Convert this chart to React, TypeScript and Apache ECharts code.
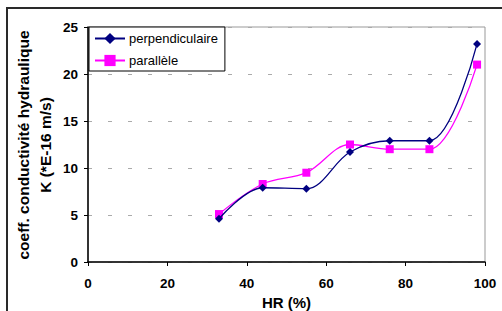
import React, { useEffect, useRef } from "react";
import * as echarts from "echarts";

const hrValues = [33, 44, 55, 66, 76, 86, 98];
const perpendiculaire = [4.6, 7.9, 7.8, 11.7, 12.9, 12.9, 23.2];
const parallele = [5.1, 8.3, 9.5, 12.5, 12.0, 12.0, 21.0];
const seriesNames = ["perpendiculaire", "parallèle"];
const yTitleLines = ["coeff. conductivité hydraulique", "K (*E-16 m/s)"];

const FONT = "'Liberation Sans', Arial, sans-serif";

export default function App() {
  const ref = useRef<HTMLDivElement>(null);
  useEffect(() => {
    if (!ref.current) return;
    const chart = echarts.init(ref.current, undefined, { renderer: "svg" });
    const toPairs = (ys: number[]) => hrValues.map((x, i) => [x, ys[i]]);
    chart.setOption({
      animation: false,
      backgroundColor: "#fff",
      textStyle: { fontFamily: FONT },
      grid: {
        left: 88,
        right: 17,
        top: 27,
        bottom: 49,
        show: true,
        borderColor: "#999",
        borderWidth: 1,
        backgroundColor: "transparent",
        outerBoundsMode: "none",
        containLabel: false,
      },
      graphic: [
        {
          type: "rect",
          shape: { x: 7, y: 8, width: 700, height: 500 },
          style: { fill: "none", stroke: "#2a2a2a", lineWidth: 2 },
          silent: true,
          z: -1,
        },
        ...yTitleLines.map((t, i) => ({
          type: "text",
          x: i === 0 ? 23 : 45,
          y: 145,
          rotation: Math.PI / 2,
          style: {
            text: t,
            fill: "#000",
            font: `bold 15.5px ${FONT}`,
            align: "center",
            verticalAlign: "middle",
          },
          silent: true,
        })),
      ],
      legend: {
        orient: "vertical",
        left: 89,
        top: 27,
        backgroundColor: "#fff",
        borderColor: "#000",
        borderWidth: 1,
        borderRadius: 0,
        padding: [5, 7, 4, 5],
        itemGap: 9,
        itemWidth: 30,
        itemHeight: 14,
        textStyle: { fontFamily: FONT, fontSize: 13, color: "#000", padding: [0, 0, 0, -1] },
        data: seriesNames,
      },
      xAxis: {
        type: "value",
        min: 0,
        max: 100,
        interval: 20,
        name: "HR (%)",
        nameLocation: "middle",
        nameGap: 31,
        nameTextStyle: { fontFamily: FONT, fontSize: 15, fontWeight: "bold", color: "#000" },
        axisLine: { show: true, lineStyle: { color: "#000", width: 1.5 } },
        axisTick: { show: true, inside: false, length: 4, lineStyle: { color: "#000" } },
        axisLabel: { fontFamily: FONT, fontSize: 13.5, fontWeight: "bold", color: "#000", margin: 14 },
        splitLine: { show: false },
      },
      yAxis: {
        type: "value",
        min: 0,
        max: 25,
        interval: 5,
        axisLine: { show: true, lineStyle: { color: "#000", width: 1.5 } },
        axisTick: { show: true, inside: false, length: 4, lineStyle: { color: "#000" } },
        axisLabel: { fontFamily: FONT, fontSize: 13.5, fontWeight: "bold", color: "#000", margin: 10 },
        splitLine: { show: true, lineStyle: { color: "#aaa", type: [4, 16], width: 1 } },
      },
      series: [
        {
          name: seriesNames[0],
          type: "line",
          smooth: 0.35,
          data: toPairs(perpendiculaire),
          symbol: "diamond",
          symbolSize: 8,
          lineStyle: { color: "#000080", width: 1.3 },
          itemStyle: { color: "#000080" },
          z: 3,
        },
        {
          name: seriesNames[1],
          type: "line",
          smooth: 0.35,
          data: toPairs(parallele),
          symbol: "rect",
          symbolSize: 8,
          lineStyle: { color: "#ff00ff", width: 1.3 },
          itemStyle: { color: "#ff00ff" },
          z: 2,
        },
      ],
    });
    return () => chart.dispose();
  }, []);
  return (
    <div
      ref={ref}
      style={{ position: "absolute", left: 0, top: 0, width: 502, height: 311 }}
    />
  );
}
